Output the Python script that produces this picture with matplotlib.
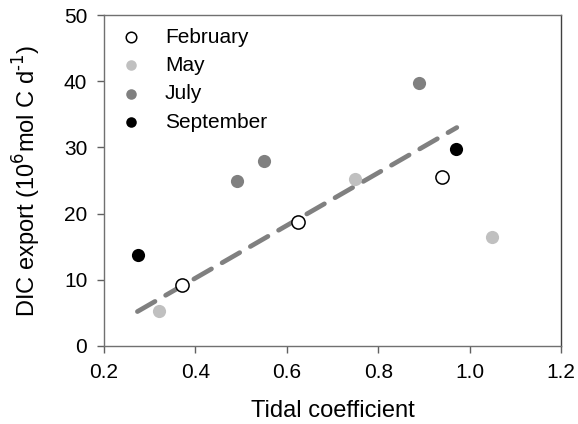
import matplotlib
matplotlib.use("Agg")
import matplotlib.pyplot as plt

plt.rcParams['font.family'] = ['Liberation Sans', 'DejaVu Sans']
plt.rcParams['font.size'] = 15

# Tidal coefficient vs DIC export, by sampling month
feb_x = [0.370, 0.624, 0.940]
feb_y = [9.2, 18.7, 25.6]
may_x = [0.320, 0.750, 1.050]
may_y = [5.3, 25.2, 16.5]
jul_x = [0.490, 0.550, 0.889]
jul_y = [24.9, 27.9, 39.7]
sep_x = [0.275, 0.970]
sep_y = [13.7, 29.7]

# Linear trend line end points
fit_x = [0.273, 0.972]
fit_y = [5.2, 33.0]

x_ticks = [0.2, 0.4, 0.6, 0.8, 1.0, 1.2]
y_ticks = [0, 10, 20, 30, 40, 50]

fig = plt.figure(figsize=(5.78, 4.24), dpi=100)
ax = fig.add_axes([0.180, 0.184, 0.7906, 0.7806])

ms = 90
ax.plot(fit_x, fit_y, color='#808080', lw=3.4, dashes=(4.3, 2.6),
        solid_capstyle='round', dash_capstyle='round', zorder=2)
ax.scatter(feb_x, feb_y, s=ms, facecolor='white', edgecolor='black', lw=1.1, zorder=3, label='February')
ax.scatter(may_x, may_y, s=ms, color='#c0c0c0', lw=0, zorder=3, label='May')
ax.scatter(jul_x, jul_y, s=ms, color='#808080', lw=0, zorder=3, label='July')
ax.scatter(sep_x, sep_y, s=ms, color='black', lw=0, zorder=3, label='September')

ax.set_xlim(0.2, 1.2)
ax.set_ylim(0, 50)
ax.set_xticks(x_ticks)
ax.set_xticklabels([f"{t:.1f}" for t in x_ticks])
ax.set_yticks(y_ticks)
ax.tick_params(direction='out', length=5, width=1, color='#606060', labelsize=15, pad=7)

for side in ['left', 'bottom', 'top']:
    ax.spines[side].set_color('#707070')
ax.spines['right'].set_color('#404040')
for s in ax.spines.values():
    s.set_linewidth(1.0)

ax.set_xlabel('Tidal coefficient', fontsize=17, labelpad=13)
ax.set_ylabel(r'DIC export (10$^{6}$mol C d$^{\text{-}1}$)', fontsize=17, labelpad=15)

ax.legend(loc='upper left', bbox_to_anchor=(-0.013, 1.0), frameon=False,
          fontsize=15, markerscale=0.8, handletextpad=0.6, labelspacing=0.45,
          borderaxespad=0.2)

fig.savefig('out.png', dpi=100)
